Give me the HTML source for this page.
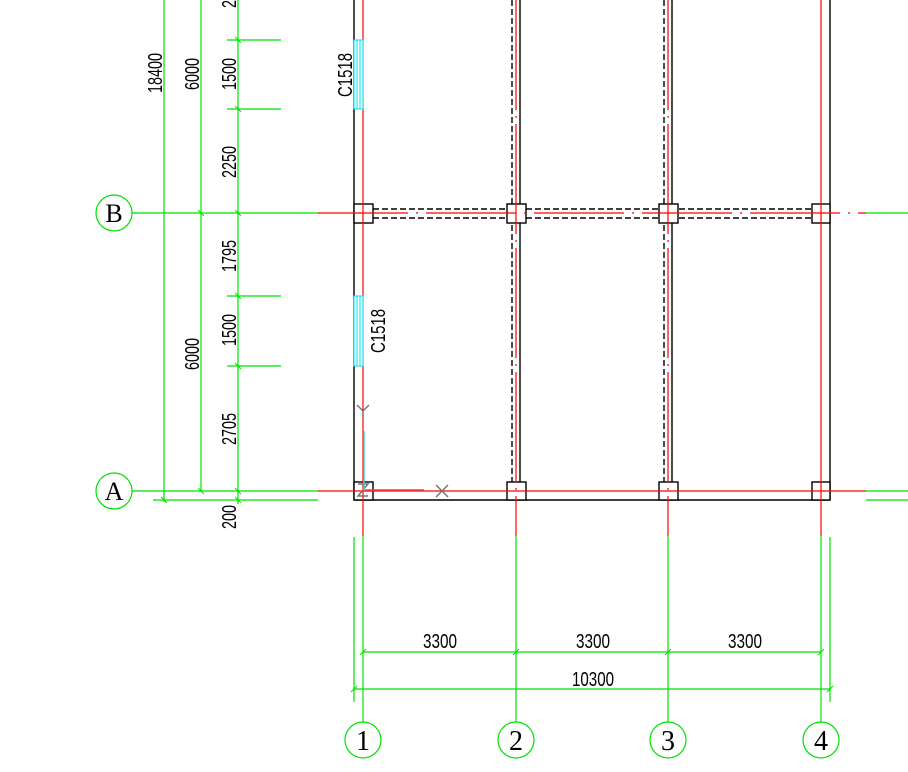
<!DOCTYPE html>
<html><head><meta charset="utf-8"><style>
html,body{margin:0;padding:0;background:#fff;width:908px;height:772px;overflow:hidden}
svg{display:block}
text{font-family:"Liberation Sans",sans-serif;font-size:20px;fill:#000}
</style></head><body>
<svg width="908" height="772" viewBox="0 0 908 772" xmlns="http://www.w3.org/2000/svg">
<g stroke="#00e000" stroke-width="1.2" fill="none">
 <line x1="164" y1="0" x2="164" y2="502"/>
 <line x1="201" y1="0" x2="201" y2="492"/>
 <line x1="238" y1="0" x2="238" y2="504"/>
 <line x1="227" y1="40" x2="281" y2="40"/>
 <line x1="227" y1="109" x2="281" y2="109"/>
 <line x1="227" y1="296" x2="281" y2="296"/>
 <line x1="227" y1="366" x2="281" y2="366"/>
 <line x1="132" y1="213" x2="318" y2="213"/>
 <line x1="132" y1="491" x2="318" y2="491"/>
 <line x1="153" y1="500" x2="318" y2="500"/>
 <line x1="866" y1="213" x2="908" y2="213"/>
 <line x1="866" y1="491" x2="908" y2="491"/>
 <line x1="866" y1="500" x2="908" y2="500"/>
 <circle cx="114" cy="213" r="18"/>
 <circle cx="114" cy="491" r="18"/>
 <line x1="363" y1="536" x2="363" y2="722"/>
 <line x1="516" y1="536" x2="516" y2="722"/>
 <line x1="668" y1="536" x2="668" y2="722"/>
 <line x1="821" y1="536" x2="821" y2="722"/>
 <line x1="354" y1="537" x2="354" y2="702"/>
 <line x1="830" y1="537" x2="830" y2="702"/>
 <line x1="363" y1="652" x2="821" y2="652"/>
 <line x1="354" y1="689" x2="830" y2="689"/>
 <circle cx="363" cy="740" r="18"/>
 <circle cx="516" cy="740" r="18"/>
 <circle cx="668" cy="740" r="18"/>
 <circle cx="821" cy="740" r="18"/>
 <g stroke-width="1">
 <line x1="198" y1="210" x2="204" y2="216"/><line x1="235" y1="210" x2="241" y2="216"/>
 <line x1="198" y1="488" x2="204" y2="494"/><line x1="235" y1="488" x2="241" y2="494"/>
 <line x1="235" y1="37" x2="241" y2="43"/><line x1="235" y1="106" x2="241" y2="112"/>
 <line x1="235" y1="293" x2="241" y2="299"/><line x1="235" y1="363" x2="241" y2="369"/>
 <line x1="161" y1="497" x2="167" y2="503"/><line x1="235" y1="497" x2="241" y2="503"/>
 <line x1="360" y1="655" x2="366" y2="649"/><line x1="513" y1="655" x2="519" y2="649"/>
 <line x1="665" y1="655" x2="671" y2="649"/><line x1="818" y1="655" x2="824" y2="649"/>
 <line x1="351" y1="692" x2="357" y2="686"/><line x1="827" y1="692" x2="833" y2="686"/>
 </g>
</g>
<g stroke="#000" stroke-width="1.4" fill="none">
 <line x1="354" y1="0" x2="354" y2="500"/>
 <line x1="830" y1="0" x2="830" y2="500"/>
 <line x1="354" y1="500" x2="830" y2="500"/>
 <line x1="520" y1="0" x2="520" y2="482"/>
 <line x1="672" y1="0" x2="672" y2="482"/>
 <g stroke-dasharray="6 3">
  <line x1="512" y1="0" x2="512" y2="482"/>
  <line x1="664" y1="0" x2="664" y2="482"/>
  <line x1="373" y1="209" x2="812" y2="209"/>
  <line x1="373" y1="218" x2="812" y2="218"/>
 </g>
 <g fill="#fff">
 <rect x="354" y="204" width="19" height="19"/><rect x="507" y="204" width="19" height="19"/>
 <rect x="659" y="204" width="19" height="19"/><rect x="812" y="204" width="18" height="19"/>
 <rect x="354" y="482" width="19" height="18"/><rect x="507" y="482" width="19" height="18"/>
 <rect x="659" y="482" width="19" height="18"/><rect x="812" y="482" width="18" height="18"/>
 </g>
</g>
<g stroke="#ff0000" stroke-width="1.2">
 <line x1="318" y1="213" x2="866" y2="213" stroke-dasharray="90 8 2 8"/>
 <line x1="318" y1="491" x2="866" y2="491"/>
 <line x1="363" y1="0" x2="363" y2="536"/>
 <line x1="516" y1="0" x2="516" y2="536" stroke-dasharray="110 6 2 6"/>
 <line x1="668" y1="0" x2="668" y2="536" stroke-dasharray="110 6 2 6"/>
 <line x1="821" y1="0" x2="821" y2="536"/>
</g>
<g stroke="#00e0f0" stroke-width="1" fill="#fff">
 <rect x="354" y="40" width="9" height="69"/><line x1="357" y1="40" x2="357" y2="109"/><line x1="360" y1="40" x2="360" y2="109"/>
 <rect x="354" y="296" width="9" height="70"/><line x1="357" y1="296" x2="357" y2="366"/><line x1="360" y1="296" x2="360" y2="366"/>
</g>
<g stroke="#777" stroke-width="1.5" fill="none">
 <path d="M357 405 L363 411 L369 405 M363 411 L363 418"/>
 <path d="M436 485 L448 497 M448 485 L436 497"/>
 <path d="M358 484 L368 484 L358 496 L368 496"/>
</g>
<line x1="364" y1="431" x2="364" y2="490" stroke="#40d0d0" stroke-width="1.5"/>
<line x1="365" y1="490" x2="424" y2="490" stroke="#f04040" stroke-width="1.5"/>
<g>
 <text transform="translate(162,93) rotate(-90)" textLength="40" lengthAdjust="spacingAndGlyphs">18400</text>
 <text transform="translate(199,90) rotate(-90)" textLength="32" lengthAdjust="spacingAndGlyphs">6000</text>
 <text transform="translate(199,370) rotate(-90)" textLength="32" lengthAdjust="spacingAndGlyphs">6000</text>
 <text transform="translate(236,90) rotate(-90)" textLength="32" lengthAdjust="spacingAndGlyphs">1500</text>
 <text transform="translate(236,178) rotate(-90)" textLength="32" lengthAdjust="spacingAndGlyphs">2250</text>
 <text transform="translate(236,272) rotate(-90)" textLength="32" lengthAdjust="spacingAndGlyphs">1795</text>
 <text transform="translate(236,346) rotate(-90)" textLength="32" lengthAdjust="spacingAndGlyphs">1500</text>
 <text transform="translate(236,445) rotate(-90)" textLength="32" lengthAdjust="spacingAndGlyphs">2705</text>
 <text transform="translate(236,529) rotate(-90)" textLength="24" lengthAdjust="spacingAndGlyphs">200</text>
 <text transform="translate(236,8) rotate(-90)" textLength="8" lengthAdjust="spacingAndGlyphs">2</text>
 <text transform="translate(352,97) rotate(-90)" textLength="44" lengthAdjust="spacingAndGlyphs">C1518</text>
 <text transform="translate(385,353) rotate(-90)" textLength="44" lengthAdjust="spacingAndGlyphs">C1518</text>
 <text x="423" y="648" textLength="34" lengthAdjust="spacingAndGlyphs">3300</text>
 <text x="576" y="648" textLength="34" lengthAdjust="spacingAndGlyphs">3300</text>
 <text x="728" y="648" textLength="34" lengthAdjust="spacingAndGlyphs">3300</text>
 <text x="572" y="686" textLength="42" lengthAdjust="spacingAndGlyphs">10300</text>
</g>
<g text-anchor="middle">
 <text x="114" y="222" style="font-family:'Liberation Serif',serif;font-size:26px">B</text>
 <text x="114" y="500" style="font-family:'Liberation Serif',serif;font-size:26px">A</text>
 <text x="363" y="750" style="font-family:'Liberation Serif',serif;font-size:28px">1</text>
 <text x="516" y="750" style="font-family:'Liberation Serif',serif;font-size:28px">2</text>
 <text x="668" y="750" style="font-family:'Liberation Serif',serif;font-size:28px">3</text>
 <text x="821" y="750" style="font-family:'Liberation Serif',serif;font-size:28px">4</text>
</g>
</svg>
</body></html>
